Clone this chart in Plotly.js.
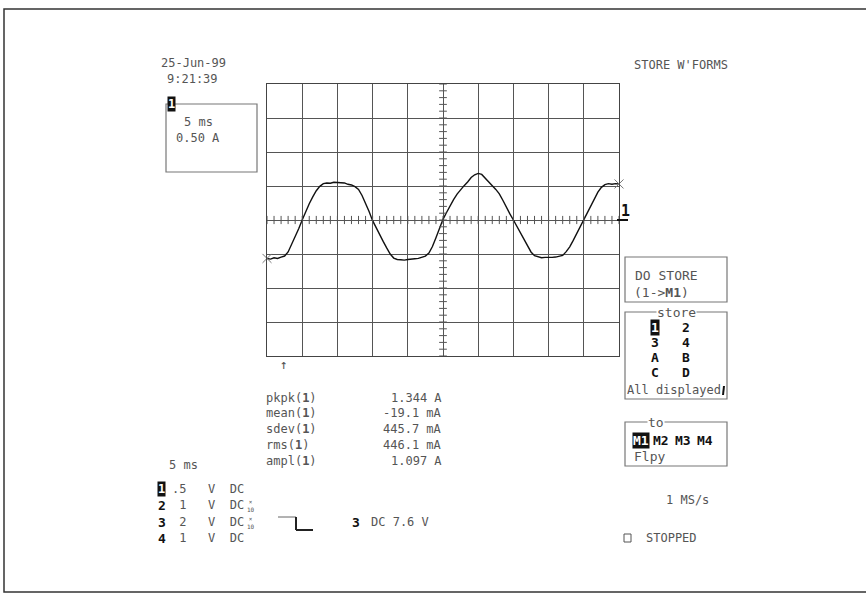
<!DOCTYPE html>
<html>
<head>
<meta charset="utf-8">
<script src="https://cdn.plot.ly/plotly-3.0.1.min.js"></script>
<style>
html,body{margin:0;padding:0;background:#fff;}
#chart{width:866px;height:594px;}
</style>
</head>
<body>
<div id="chart"></div>
<script>
// ---- data (time in ms, current in A; 5 ms/div, 0.5 A/div) ----
const timeMs = [0,0.5,1,1.5,2,2.5,3,3.5,4,4.5,5,5.5,6,6.5,7,7.5,8,8.5,9,9.5,
 10,10.5,11,11.5,12,12.5,13,13.5,14,14.5,15,15.5,16,16.5,17,17.5,18,18.5,19,19.5,
 20,20.5,21,21.5,22,22.5,23,23.5,24,24.5,25,25.5,26,26.5,27,27.5,28,28.5,29,29.5,
 30,30.5,31,31.5,32,32.5,33,33.5,34,34.5,35,35.5,36,36.5,37,37.5,38,38.5,39,39.5,
 40,40.5,41,41.5,42,42.5,43,43.5,44,44.5,45,45.5,46,46.5,47,47.5,48,48.5,49,49.5,50];
const currentA = [-0.565,-0.575,-0.555,-0.565,-0.545,-0.53,-0.47,-0.36,-0.25,-0.13,
 0.0,0.125,0.24,0.34,0.43,0.495,0.535,0.545,0.54,0.555,
 0.55,0.545,0.545,0.525,0.515,0.49,0.45,0.36,0.25,0.125,
 -0.01,-0.12,-0.215,-0.315,-0.41,-0.5,-0.56,-0.58,-0.585,-0.59,
 -0.58,-0.58,-0.57,-0.565,-0.55,-0.53,-0.485,-0.39,-0.26,-0.12,
 0.01,0.11,0.21,0.30,0.38,0.45,0.505,0.56,0.625,0.665,
 0.685,0.67,0.62,0.565,0.505,0.45,0.385,0.29,0.18,0.09,
 0.0,-0.09,-0.185,-0.285,-0.38,-0.47,-0.525,-0.545,-0.555,-0.55,
 -0.555,-0.55,-0.545,-0.535,-0.52,-0.465,-0.395,-0.30,-0.20,-0.095,
 0.0,0.11,0.215,0.315,0.41,0.48,0.52,0.535,0.525,0.535,0.53];

const statLabels = ['pkpk(<b>1</b>)','mean(<b>1</b>)','sdev(<b>1</b>)','rms(<b>1</b>)','ampl(<b>1</b>)'];
const statValues = ['1.344 A','-19.1 mA','445.7 mA','446.1 mA','1.097 A'];
const chanIds = ['1','2','3','4'];
const chanScales = ['.5','1','2','1'];
const storeRows = [['1','2'],['3','4'],['A','B'],['C','D']];
const memSlots = ['M1','M2','M3','M4'];

// ---- layout helpers (pixel -> paper) ----
const L=267,R=619,T=84,B=356;
const fx = x => (x-L)/(R-L);
const fy = y => (B-y)/(B-T);
const MONO = 'DejaVu Sans Mono';
const GRAY = '#555';
const ann = [];
function txt(s, x, y, o){
  o = o||{};
  ann.push({text:s, x:fx(x), y:fy(y), xref:'paper', yref:'paper', showarrow:false,
    xanchor:o.xa||'left', yanchor:'middle',
    font:{family:o.family||MONO, size:o.size||12, color:o.color||GRAY},
    bgcolor:o.bg||'rgba(0,0,0,0)', borderpad:o.pad||0});
}
const nb = s => s.replace(/ /g,'\u00a0');
const shapes = [];
function pline(x0,y0,x1,y1,c,w){
  shapes.push({type:'line',xref:'paper',yref:'paper',x0:fx(x0),y0:fy(y0),x1:fx(x1),y1:fy(y1),
    line:{color:c||'#555',width:w||1}});
}
function prect(x0,y0,x1,y1,c,w,fill){
  shapes.push({type:'rect',xref:'paper',yref:'paper',x0:fx(x0),y0:fy(y0),x1:fx(x1),y1:fy(y1),
    line:{color:c||'#666',width:w||1}, fillcolor:fill||'rgba(0,0,0,0)'});
}

// outer frame
prect(4,9,880,592,'#333',1.5);

// center-line graticule ticks
for(let i=0;i<=50;i++){
  shapes.push({type:'line',xref:'x',yref:'y',x0:i,x1:i,y0:-0.06,y1:0.06,line:{color:'#555',width:1}});
}
for(let j=-20;j<=20;j++){
  shapes.push({type:'line',xref:'x',yref:'y',x0:24.45,x1:25.55,y0:j*0.1,y1:j*0.1,line:{color:'#555',width:1}});
}

// top-left: date/time and timebase box
txt('25-Jun-99',160,63);
txt('9:21:39',166,79);
prect(166,104,257,172,'#777',1.2);
txt('<b>1</b>',167,104,{color:'#fff',bg:'#111',size:12});
txt('5 ms',183,122);
txt('0.50 A',175,138);

// trace label marker on the right
txt('<b>1</b>',620,211,{color:'#111',size:15});
pline(617,220,628,220,'#111',2);

// trigger arrow
txt('\u2191',279,364,{size:13});

// statistics
const statY=[398,413,429,445,461];
statLabels.forEach((s,i)=>{ txt(s,265,statY[i]); txt(statValues[i],443,statY[i],{xa:'right'}); });

// bottom-left channel info
txt('5 ms',168,465);
const chY=[489,505,522,538];
chanIds.forEach((c,i)=>{
  if(i===0) txt('<b>'+c+'</b>',157,chY[i],{color:'#fff',bg:'#111',size:12});
  else txt('<b>'+c+'</b>',157,chY[i],{color:'#111',size:13});
  const sc = chanScales[i].length===2 ? chanScales[i] : ' '+chanScales[i];
  txt(nb(sc+'   V  DC'),171,chY[i]);
  if(i===1||i===2) txt('\u00d7<br>10',246,chY[i],{size:6});
});
// trigger slope symbol
pline(278,517,296,517,'#666',1);
pline(296,517,296,530,'#222',2);
pline(296,530,313,530,'#222',2);
txt('<b>3</b>',351,522,{color:'#111',size:13});
txt('DC 7.6 V',370,522);

// right-hand menu
txt("STORE W'FORMS",633,65);
prect(625,257,727,302,'#777',1.2);
txt('DO STORE',634,275,{size:13});
txt('(1-><b>M1</b>)',633,292,{size:13});
prect(625,312,727,399,'#777',1.2);
txt(nb('store'),676,312,{xa:'center',bg:'#fff',size:13});
const rowY=[327,342,357,372];
storeRows.forEach((r,i)=>{
  if(i===0) txt('<b>'+r[0]+'</b>',650,rowY[i],{color:'#fff',bg:'#111',size:13});
  else txt('<b>'+r[0]+'</b>',650,rowY[i],{color:'#111',size:13});
  txt('<b>'+r[1]+'</b>',681,rowY[i],{color:'#111',size:13});
});
txt('All displayed',626,390,{size:12});
pline(724,386,723,395,'#111',2);
prect(625,422,727,466,'#777',1.2);
txt('to',656,422,{xa:'center',bg:'#fff',size:13});
const memX=[632,652,674,696];
memSlots.forEach((m,i)=>{
  if(i===0) txt('<b>'+m+'</b>',memX[i],440,{color:'#fff',bg:'#111',size:13});
  else txt('<b>'+m+'</b>',memX[i],440,{color:'#111',size:13});
});
txt('Flpy',633,456,{size:13});
txt('1 MS/s',665,500);
prect(624,534,631,542,'#555',1);
txt('STOPPED',645,538);

const traces = [
  {x:timeMs, y:currentA, type:'scatter', mode:'lines', line:{color:'#111',width:1.4}, hoverinfo:'skip'},
  {x:[timeMs[0], timeMs[timeMs.length-1]], y:[currentA[0], currentA[currentA.length-1]],
   type:'scatter', mode:'markers', marker:{symbol:'x-thin', size:9, line:{color:'#777',width:1}}, cliponaxis:false}
];

const axisCommon = {showgrid:true, gridcolor:'#555', gridwidth:1, zeroline:false,
  showline:true, linecolor:'#444', linewidth:1, mirror:true, showticklabels:false, ticks:'', fixedrange:true};

const layout = {
  width:866, height:594,
  margin:{l:L, r:866-R, t:T, b:594-B, pad:0},
  paper_bgcolor:'#fff', plot_bgcolor:'#fff', showlegend:false,
  xaxis:Object.assign({range:[0,50], tick0:0, dtick:5}, axisCommon),
  yaxis:Object.assign({range:[-2,2], tick0:0, dtick:0.5}, axisCommon),
  shapes:shapes, annotations:ann
};
Plotly.newPlot('chart', traces, layout, {staticPlot:true, displayModeBar:false});
</script>
</body>
</html>
